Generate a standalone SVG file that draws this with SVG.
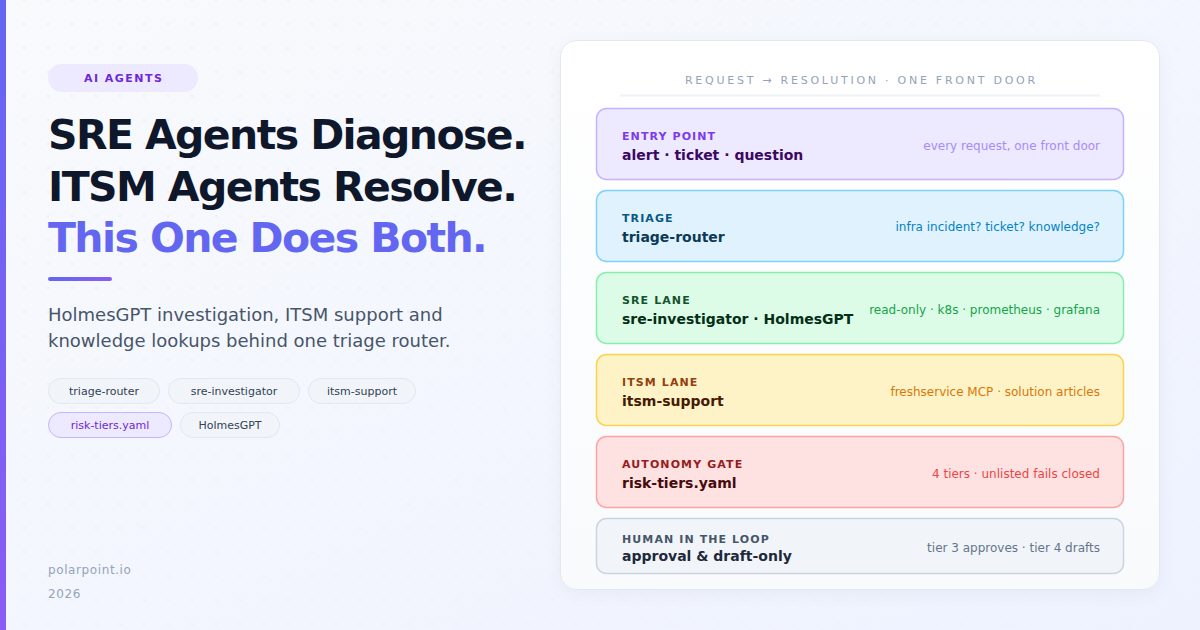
<svg xmlns="http://www.w3.org/2000/svg" width="1200" height="630" viewBox="0 0 1200 630">
  <defs>
    <linearGradient id="bg" x1="0" y1="0" x2="1" y2="1">
      <stop offset="0" stop-color="#f8fafc"/>
      <stop offset="1" stop-color="#eef2ff"/>
    </linearGradient>
    <linearGradient id="accent" x1="0" y1="0" x2="0" y2="1">
      <stop offset="0" stop-color="#6366f1"/>
      <stop offset="1" stop-color="#8b5cf6"/>
    </linearGradient>
    <linearGradient id="accentH" x1="0" y1="0" x2="1" y2="0">
      <stop offset="0" stop-color="#6366f1"/>
      <stop offset="1" stop-color="#8b5cf6"/>
    </linearGradient>
    <linearGradient id="card" x1="0" y1="0" x2="0" y2="1">
      <stop offset="0" stop-color="#ffffff"/>
      <stop offset="1" stop-color="#f8fafc"/>
    </linearGradient>
    <pattern id="dots" x="0" y="0" width="24" height="24" patternUnits="userSpaceOnUse">
      <circle cx="0" cy="0" r="1.1" fill="#e2e8f0" opacity="0.8"/>
      <circle cx="24" cy="0" r="1.1" fill="#e2e8f0" opacity="0.8"/>
      <circle cx="0" cy="24" r="1.1" fill="#e2e8f0" opacity="0.8"/>
      <circle cx="24" cy="24" r="1.1" fill="#e2e8f0" opacity="0.8"/>
    </pattern>
    <filter id="shadow" x="-5%" y="-5%" width="110%" height="112%">
      <feDropShadow dx="0" dy="4" stdDeviation="8" flood-color="#0f172a" flood-opacity="0.04"/>
    </filter>
  </defs>
  <style>
    text { font-family: "DejaVu Sans", "Liberation Sans", sans-serif; }
    .h1 { font-size: 41px; font-weight: 700; letter-spacing: -1.6px; }
    .sub { font-size: 18px; fill: #475569; }
    .chip rect { fill: #f1f5f9; stroke: #e2e8f0; stroke-width: 1; }
    .chip text { font-size: 11px; fill: #334155; text-anchor: middle; }
    .chip.hl rect { fill: #ede9fe; stroke: #c4b5fd; }
    .chip.hl text { fill: #6d28d9; }
    .foot { font-size: 12px; fill: #94a3b8; letter-spacing: 0.6px; }
    .lbl { font-size: 11px; font-weight: 700; letter-spacing: 1.1px; }
    .main { font-size: 14px; font-weight: 700; }
    .note { font-size: 12px; text-anchor: end; }
    .box { stroke-width: 1.5; }
  </style>

  <!-- background -->
  <rect x="0" y="0" width="1200" height="630" fill="url(#bg)"/>
  <rect x="0" y="0" width="1200" height="630" fill="url(#dots)"/>
  <rect x="0" y="0" width="6" height="630" fill="url(#accent)"/>

  <!-- left column -->
  <g id="badge">
    <rect x="48" y="64" width="150" height="28" rx="14" fill="#ede9fe"/>
    <text x="123.7" y="82" text-anchor="middle" font-size="11" font-weight="700" letter-spacing="1.5" fill="#6d28d9">AI AGENTS</text>
  </g>
  <g id="headline">
    <text class="h1" x="48" y="149" fill="#0f172a">SRE Agents Diagnose.</text>
    <text class="h1" x="48" y="200.5" fill="#0f172a">ITSM Agents Resolve.</text>
    <text class="h1" x="48" y="252" fill="#6366f1">This One Does Both.</text>
    <rect x="48" y="277" width="64" height="4" rx="2" fill="url(#accentH)"/>
  </g>
  <g id="subtitle">
    <text class="sub" x="48" y="320.5">HolmesGPT investigation, ITSM support and</text>
    <text class="sub" x="48" y="346.5">knowledge lookups behind one triage router.</text>
  </g>
  <g id="chips">
    <g class="chip" id="chip-triage-router"><rect x="48.5" y="378.5" width="111" height="25" rx="12.5"/><text x="104" y="395">triage-router</text></g>
    <g class="chip" id="chip-sre-investigator"><rect x="168.5" y="378.5" width="131" height="25" rx="12.5"/><text x="234" y="395">sre-investigator</text></g>
    <g class="chip" id="chip-itsm-support"><rect x="308.5" y="378.5" width="107" height="25" rx="12.5"/><text x="362" y="395">itsm-support</text></g>
    <g class="chip hl" id="chip-risk-tiers"><rect x="48.5" y="412.5" width="123" height="25" rx="12.5"/><text x="110" y="429">risk-tiers.yaml</text></g>
    <g class="chip" id="chip-holmesgpt"><rect x="180.5" y="412.5" width="99" height="25" rx="12.5"/><text x="230" y="429">HolmesGPT</text></g>
  </g>
  <g id="footer">
    <text class="foot" x="48" y="574" font-size="13" letter-spacing="0.5">polarpoint.io</text>
    <text class="foot" x="48" y="598">2026</text>
  </g>

  <!-- right card -->
  <g id="card">
    <rect x="560.5" y="40.5" width="599" height="549" rx="16" fill="url(#card)" stroke="#e2e8f0" stroke-width="1" filter="url(#shadow)"/>
    <text x="861.4" y="84" text-anchor="middle" font-size="11" letter-spacing="2.75" fill="#94a3b8">REQUEST → RESOLUTION · ONE FRONT DOOR</text>
    <line x1="620" y1="95.5" x2="1100" y2="95.5" stroke="#eef2f7" stroke-width="2"/>
  </g>

  <g id="connectors"></g>

  <g id="entry-point">
    <rect class="box" x="596.5" y="108.5" width="527" height="71" rx="10" fill="#ede9fe" stroke="#c4b5fd"/>
    <text class="lbl" x="622" y="140" fill="#7c3aed">ENTRY POINT</text>
    <text class="main" x="622" y="160" fill="#3b0764">alert · ticket · question</text>
    <text class="note" x="1100" y="150" fill="#a78bfa">every request, one front door</text>
  </g>
  <g id="triage">
    <rect class="box" x="596.5" y="190.5" width="527" height="71" rx="10" fill="#e0f2fe" stroke="#7dd3fc"/>
    <text class="lbl" x="622" y="222" fill="#075985">TRIAGE</text>
    <text class="main" x="622" y="242" fill="#0c3a55">triage-router</text>
    <text class="note" x="1100" y="231" fill="#0284c7">infra incident? ticket? knowledge?</text>
  </g>
  <g id="sre-lane">
    <rect class="box" x="596.5" y="272.5" width="527" height="71" rx="10" fill="#dcfce7" stroke="#86efac"/>
    <text class="lbl" x="622" y="304" fill="#14532d">SRE LANE</text>
    <text class="main" x="622" y="324" fill="#052e16">sre-investigator · HolmesGPT</text>
    <text class="note" x="1100" y="314" fill="#16a34a">read-only · k8s · prometheus · grafana</text>
  </g>
  <g id="itsm-lane">
    <rect class="box" x="596.5" y="354.5" width="527" height="71" rx="10" fill="#fef3c7" stroke="#fcd34d"/>
    <text class="lbl" x="622" y="386" fill="#92400e">ITSM LANE</text>
    <text class="main" x="622" y="406" fill="#451a03">itsm-support</text>
    <text class="note" x="1100" y="396" fill="#d97706">freshservice MCP · solution articles</text>
  </g>
  <g id="autonomy-gate">
    <rect class="box" x="596.5" y="436.5" width="527" height="71" rx="10" fill="#fee2e2" stroke="#fca5a5"/>
    <text class="lbl" x="622" y="468" fill="#991b1b">AUTONOMY GATE</text>
    <text class="main" x="622" y="488" fill="#450a0a">risk-tiers.yaml</text>
    <text class="note" x="1100" y="478" fill="#ef4444">4 tiers · unlisted fails closed</text>
  </g>
  <g id="human-in-the-loop">
    <rect class="box" x="596.5" y="518.5" width="527" height="55" rx="10" fill="#f1f5f9" stroke="#cbd5e1"/>
    <text class="lbl" x="622" y="543" fill="#475569">HUMAN IN THE LOOP</text>
    <text class="main" x="622" y="561" fill="#1e293b">approval &amp; draft-only</text>
    <text class="note" x="1100" y="552" fill="#64748b">tier 3 approves · tier 4 drafts</text>
  </g>
</svg>
